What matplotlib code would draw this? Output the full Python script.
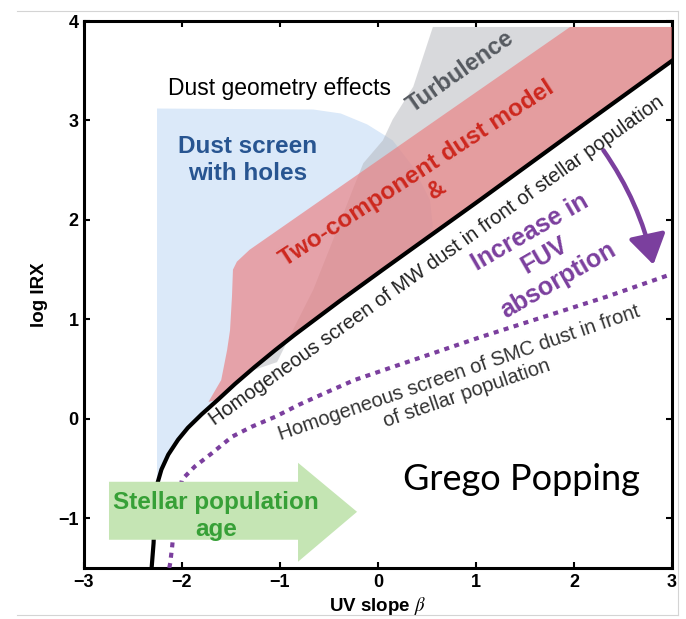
import numpy as np
import matplotlib
matplotlib.use('Agg')
import matplotlib.pyplot as plt
from matplotlib.patches import Polygon, FancyArrowPatch
from matplotlib.lines import Line2D

plt.rcParams['font.family'] = ['Liberation Sans', 'DejaVu Sans']
plt.rcParams['mathtext.fontset'] = 'stix'

# ---------------- data ----------------
x_ticks = [-3, -2, -1, 0, 1, 2, 3]
y_ticks = [-1, 0, 1, 2, 3, 4]

# Homogeneous MW dust screen (solid black)
mw_beta = [-2.31, -2.29, -2.28, -2.26, -2.21, -2.14, -2.04, -1.94, -1.80, -1.63,
           -1.46, -1.26, -1.05, -0.85, -0.39, 0.05, 1.04, 1.96, 3.00]
mw_irx = [-1.50, -1.25, -0.97, -0.68, -0.51, -0.36, -0.21, -0.09, 0.045, 0.195,
          0.35, 0.52, 0.69, 0.845, 1.185, 1.50, 2.20, 2.86, 3.60]

# Homogeneous SMC dust screen (purple dotted)
smc_beta = [-2.13, -2.12, -2.10, -2.07, -2.00, -1.87, -1.70, -1.49, -1.29, -1.05,
            -0.81, -0.54, -0.24, 1.04, 2.34, 2.98]
smc_irx = [-1.50, -1.45, -1.28, -0.95, -0.61, -0.48, -0.35, -0.18, -0.08, 0.02,
           0.14, 0.26, 0.39, 0.82, 1.23, 1.45]

# "Dust screen with holes" region boundary (left / top / right)
blue_beta = [-2.255, -2.255, -0.66, -0.38, -0.11, 0.15, 0.36, 0.53, 0.56, 0.48, 0.36]
blue_irx = [-0.74, 3.12, 3.11, 3.07, 2.96, 2.80, 2.53, 2.20, 1.93, 1.77, 1.72]

# "Turbulence" region left boundary
gray_beta = [0.56, 0.36, 0.15, 0.05, -0.15, -0.26, -0.39, -0.66, -0.87, -1.03, -1.33]
gray_irx = [3.94, 3.34, 3.01, 2.80, 2.57, 2.30, 1.97, 1.30, 0.89, 0.57, 0.47]

# "Two-component dust model" region upper boundary
red_beta = [-1.73, -1.60, -1.54, -1.51, -1.49, -1.48, -1.44, -1.31, 0.63, 1.96, 3.00]
red_irx = [0.17, 0.39, 0.69, 0.89, 1.23, 1.50, 1.58, 1.70, 3.03, 3.94, 3.94]

# ---------------- figure ----------------
W, H = 686, 619
fig = plt.figure(figsize=(W / 100, H / 100), dpi=100)
ax = fig.add_axes([84 / W, 1 - 568 / H, (672 - 84) / W, (568 - 21) / H])
ax.set_xlim(-3, 3)
ax.set_ylim(-1.5, 4)

mw_b = np.array(mw_beta)
mw_y = np.array(mw_irx)

# blue region
m = (mw_b > blue_beta[0]) & (mw_b < blue_beta[-1])
bx = list(blue_beta) + list(mw_b[m][::-1])
by = list(blue_irx) + list(mw_y[m][::-1])
ax.add_patch(Polygon(np.column_stack([bx, by]), closed=True,
                     facecolor='#dbe9f9', edgecolor='none', zorder=1))

# gray region
m = mw_b > gray_beta[-1]
gx = list(gray_beta) + list(mw_b[m]) + [3.0]
gy = list(gray_irx) + list(mw_y[m]) + [3.94]
ax.add_patch(Polygon(np.column_stack([gx, gy]), closed=True,
                     facecolor='#b3b5ba', alpha=0.5, edgecolor='none', zorder=2))

# red region
m = mw_b > red_beta[0]
rx = list(red_beta) + list(mw_b[m][::-1])
ry = list(red_irx) + list(mw_y[m][::-1])
ax.add_patch(Polygon(np.column_stack([rx, ry]), closed=True,
                     facecolor='#eb7d7f', alpha=0.65, edgecolor='none', zorder=3))

# curves
ax.plot(mw_beta, mw_irx, color='black', lw=3.0, zorder=4, solid_joinstyle='round')
ax.plot(smc_beta, smc_irx, color='#7b3f9e', lw=3.0, ls=(0, (1.2, 1.3)), zorder=4)

# green arrow (stellar population age)
arrow_xy = [(-2.745, -0.633), (-0.816, -0.633), (-0.816, -0.442), (-0.214, -0.935),
            (-0.816, -1.437), (-0.816, -1.216), (-2.745, -1.216)]
garrow = Polygon(arrow_xy, closed=True, facecolor='#c5e5b4', edgecolor='none', zorder=5)
ax.add_patch(garrow)
t = ax.text(-1.653, -0.975, 'Stellar population\nage', color='#37a037', fontsize=17.5,
            fontweight='bold', ha='center', va='center', linespacing=1.25, zorder=6)
t.set_clip_path(garrow)

# purple arrow
pa = FancyArrowPatch((2.30, 2.70), (2.81, 1.55), connectionstyle='arc3,rad=-0.1',
                     arrowstyle='-|>,head_length=18,head_width=11.5', mutation_scale=1,
                     color='#7b3f9e', lw=3.2, shrinkA=0, shrinkB=0, zorder=6)
ax.add_patch(pa)

# texts
ax.text(-1.01, 3.32, 'Dust geometry effects', fontsize=16.5, color='black',
        ha='center', va='center', zorder=6)
ax.text(-1.327, 2.603, 'Dust screen\nwith holes', fontsize=17.5, fontweight='bold',
        color='#285591', ha='center', va='center', linespacing=1.25, zorder=6)
ax.text(0.837, 3.487, 'Turbulence', fontsize=17, fontweight='bold', color='#555a60',
        rotation=35, rotation_mode='anchor', ha='center', va='center', zorder=6)
ax.text(0.398, 2.467, 'Two-component dust model', fontsize=17.5, fontweight='bold',
        color='#cd281e', rotation=33, rotation_mode='anchor', ha='center', va='center', zorder=6)
ax.text(0.602, 2.302, '&', fontsize=17.5, fontweight='bold', color='#cd281e',
        rotation=33, rotation_mode='anchor', ha='center', va='center', zorder=6)
ax.text(0.602, 1.588, 'Homogeneous screen of MW dust in front of stellar population',
        fontsize=14.5, color='#222222', rotation=35.5, rotation_mode='anchor',
        ha='center', va='center', zorder=6)
ax.text(1.694, 1.638, 'Increase in\nFUV\nabsorption', fontsize=18, fontweight='bold',
        color='#7b3f9e', rotation=30, rotation_mode='anchor', ha='center', va='center',
        linespacing=1.2, zorder=6)
ax.text(0.867, 0.357, 'Homogeneous screen of SMC dust in front\nof stellar population',
        fontsize=14.5, color='#333333', rotation=19, rotation_mode='anchor',
        ha='center', va='center', linespacing=1.2, zorder=6)
ax.text(1.459, -0.613, 'Grego Popping', fontsize=26, color='black', family='Lato',
        ha='center', va='center', zorder=6)

# axes styling
ax.set_xticks(x_ticks, labels=[str(v).replace('-', '\u2212') for v in x_ticks],
              fontweight='bold', fontsize=13)
ax.set_yticks(y_ticks, labels=[str(v).replace('-', '\u2212') for v in y_ticks],
              fontweight='bold', fontsize=13)
ax.tick_params(direction='in', top=True, right=True, length=4, width=1.5, pad=4)
for s in ax.spines.values():
    s.set_linewidth(2.2)
ax.set_xlabel(r'UV slope $\beta$', fontweight='bold', fontsize=13.5, labelpad=3)
ax.set_ylabel('log IRX', fontweight='bold', fontsize=13.5, labelpad=7)

# faint screenshot frame
fc = '#d4d4d4'
fig.add_artist(Line2D([17 / W, 678 / W], [1 - 11 / H, 1 - 11 / H], transform=fig.transFigure, color=fc, lw=0.8))
fig.add_artist(Line2D([678 / W, 678 / W], [1 - 11 / H, 1 - 615 / H], transform=fig.transFigure, color=fc, lw=0.8))
fig.add_artist(Line2D([17 / W, 678 / W], [1 - 615 / H, 1 - 615 / H], transform=fig.transFigure, color=fc, lw=0.8))

fig.savefig('out.png', dpi=100)
